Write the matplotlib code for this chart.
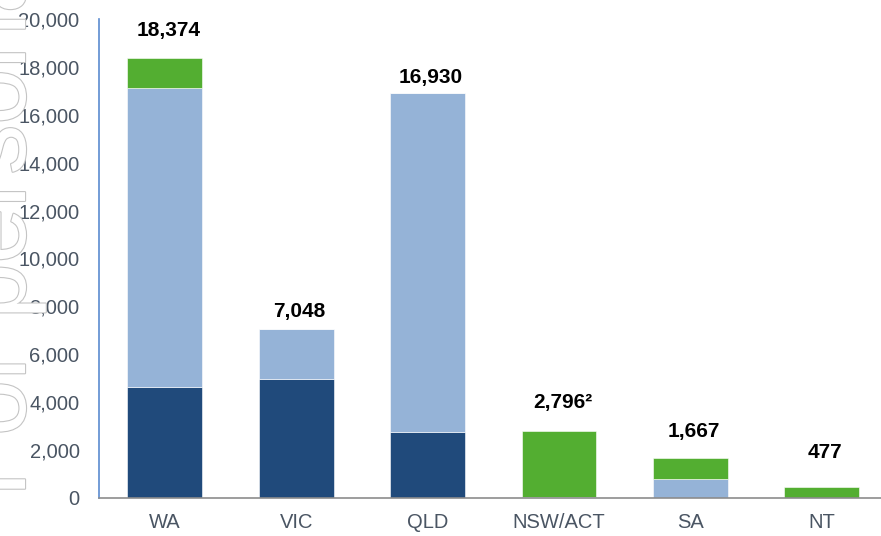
import matplotlib
matplotlib.use("Agg")
import matplotlib.pyplot as plt
import matplotlib.patheffects as pe
from matplotlib.ticker import FuncFormatter

plt.rcParams['font.family'] = ['Liberation Sans', 'DejaVu Sans']

categories = ["WA", "VIC", "QLD", "NSW/ACT", "SA", "NT"]
dark_vals = [4640, 4970, 2760, 40, 0, 0]
light_vals = [12480, 2078, 14170, 0, 793, 0]
green_vals = [1254, 0, 0, 2756, 874, 477]
total_labels = ["18,374", "7,048", "16,930", "2,796\u00b2", "1,667", "477"]
label_offsets_pt = [13, 6, 4, 14, 12, 18]

dark = "#204A7B"
light = "#95B3D7"
green = "#53AE31"
grey_txt = "#4A5563"

fig = plt.figure(figsize=(8.81, 5.36), dpi=100)

# watermark
fig.text(0.0284, 0.073, "For personal use only", rotation=90, rotation_mode='anchor',
         ha='left', va='baseline', fontsize=72, color='white',
         path_effects=[pe.Stroke(linewidth=1.6, foreground='#C4C4C4'), pe.Normal()],
         zorder=0)

ax = fig.add_axes([0.1124, 0.0709, 0.8876, 0.8937])
ax.patch.set_alpha(0)
x = list(range(len(categories)))
w = 0.57
ax.bar(x, dark_vals, w, color=dark, edgecolor='white', linewidth=0.4)
ax.bar(x, light_vals, w, bottom=dark_vals, color=light, edgecolor='white', linewidth=0.4)
bot2 = [a + b for a, b in zip(dark_vals, light_vals)]
ax.bar(x, green_vals, w, bottom=bot2, color=green, edgecolor='white', linewidth=0.4)

totals = [a + b for a, b in zip(bot2, green_vals)]
for xi, t, lab, off in zip(x, totals, total_labels, label_offsets_pt):
    ax.annotate(lab, (xi, t), xytext=(2.5, off), textcoords='offset points',
                ha='center', va='bottom', fontsize=15, fontweight='bold', color='black')

ax.set_xlim(-0.5, 5.45)
ax.set_ylim(0, 20000)
ax.set_yticks(range(0, 20001, 2000))
ax.yaxis.set_major_formatter(FuncFormatter(lambda v, p: f"{int(v):,}"))
ax.set_xticks(x)
ax.set_xticklabels(categories)
ax.tick_params(axis='y', length=0, pad=14, labelsize=14.5, labelcolor=grey_txt)
ax.tick_params(axis='x', length=0, pad=11, labelsize=14.5, labelcolor=grey_txt)
for s in ['top', 'right']:
    ax.spines[s].set_visible(False)
ax.spines['left'].set_color('#5B8BD0')
ax.spines['left'].set_linewidth(1.2)
ax.spines['bottom'].set_color('#8C8C8C')
ax.spines['bottom'].set_linewidth(1.2)

fig.savefig("out.png", dpi=100)
